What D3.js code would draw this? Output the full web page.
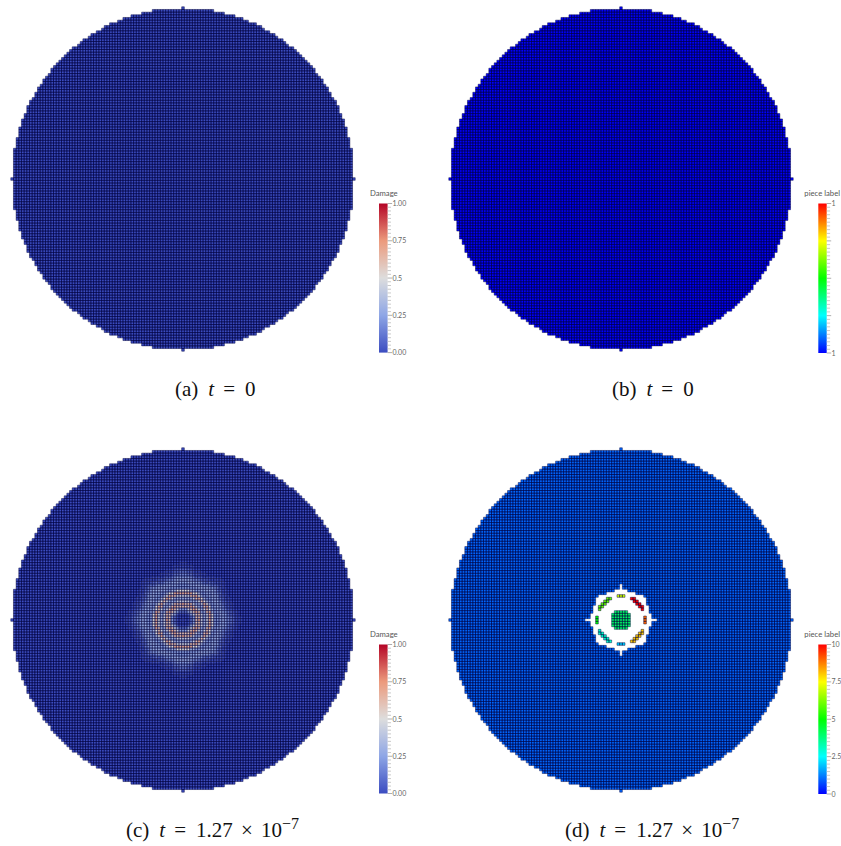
<!DOCTYPE html>
<html>
<head>
<meta charset="utf-8">
<script src="https://cdn.jsdelivr.net/npm/d3@7"></script>
<style>
html,body{margin:0;padding:0;background:#fff}
svg{display:block}
text.cap{font-family:"Liberation Serif",serif;font-size:21px;fill:#111}
text.tick{font-family:Lato,"Noto Sans",sans-serif;font-size:7px;fill:#666}
text.ttl{font-family:Lato,"Noto Sans",sans-serif;font-size:7.7px;fill:#555}
.soft{filter:blur(.45px)}
</style>
</head>
<body>
<svg id="c" width="841" height="846"></svg>
<script>
// --- data (lattice units = one mesh cell) ---
const meshRadius = 64;
const damageInitial = 0;
const pieceInitial = 0;
const pieceMain = 1;
// damage around the impact, sampled outward from the centre every profileStep cells
const profileStep = 0.64;
const damageProfile = [.01,.01,.02,.03,.06,.12,.25,.42,.6,.7,.62,.42,.28,.3,.44,.62,.68,.5,.32,.24,.24,.27,.29,.28,.24,.19,.14,.09,.06,.03,.02];
const damageFar = 0.004;
const damageLobeStart = 11.5;
// angular stretch of the outer damage halo, each 7.5 degrees, repeating each 90
const damageLobes = [1.25,1.14,.95,.92,.94,1.05,1.2,1.05,.94,.92,.95,1.14];
// radius of the cut-out in panel d, each 7.5 degrees, repeating each 90
const holeRadius = [13.05,11.3,10.8,11,11.5,12.2,12.7,12.2,11.5,11,10.8,11.3];
// fragments: label, start angle, end angle, inner radius, outer radius
const fragLabels = [4,9,7,5,2,10,6,3,8];
const fragStart  = [0,-11,79,169,259,23,113,203,293];
const fragEnd    = [360,11,101,191,281,67,157,247,337];
const fragInner  = [0,8.3,8.3,8.3,8.3,8.3,8.3,8.3,8.3];
const fragOuter  = [3.7,9.6,9.6,9.6,9.6,9.6,9.6,9.6,9.6];
// colour bars
const damageTicks = [0,.25,.5,.75,1];
const damageTickLabels = ["0.00","0.25","0.5","0.75","1.00"];
const pieceTicksB = [0,1];
const pieceTickLabelsB = ["1","1"];
const pieceTicksD = [0,2.5,5,7.5,10];
const pieceTickLabelsD = ["0","2.5","5","7.5","10"];
const captionTags = ["(a)","(b)","(c)","(d)"];
const captionValues = ["0","0","1.27 × 10","1.27 × 10"];
const captionExps = ["","","−7","−7"];

// --- layout ---
const panels = [
 {cx:183,cy:179,bar:[379,387.6],barY:[352.6,203.5],cap:[175,396]},
 {cx:621,cy:179,bar:[818.3,826.7],barY:[353,203.5],cap:[612,396]},
 {cx:183,cy:620,bar:[379,387.6],barY:[793.5,644.5],cap:[126,837]},
 {cx:621,cy:620,bar:[818.3,826.7],barY:[794,644.5],cap:[565,837]}
];

const svg = d3.select("#c");
const coolWarm = d3.scaleLinear().domain([0,.25,.5,.75,1]).range(["#3b4cc0","#8ea6e6","#dddddd","#ec9a7c","#b40426"]).clamp(true);
const rainbowStops = ["#0000ff","#00ffff","#00ff00","#ffff00","#ff0000"];
const rainbow = d3.scaleLinear().domain([0,.25,.5,.75,1]).range(rainbowStops).clamp(true);
const label10 = d3.scaleLinear().domain([0,10]).range([0,1]);

// lattice of the disc
const lattice = [];
d3.range(-meshRadius,meshRadius+1).forEach(j=>d3.range(-meshRadius,meshRadius+1).forEach(i=>{
  const r=Math.hypot(i,j);
  if(r<=meshRadius){
    let a=Math.atan2(j,i)*180/Math.PI; if(a<0)a+=360;
    lattice.push({i,j,r,a});
  }
}));
const bin = (arr,a)=>{const k=Math.round(((a%90)+90)%90/7.5)%12;return arr[k];};
function damageAt(c){
  let r=c.r;
  if(r>damageLobeStart) r=damageLobeStart+(r-damageLobeStart)/bin(damageLobes,c.a);
  const k=Math.round(r/profileStep);
  return k<damageProfile.length?damageProfile[k]:damageFar;
}
function pieceAt(c){
  for(let f=0;f<fragLabels.length;f++){
    const span=fragEnd[f]-fragStart[f];
    const a=(c.a-fragStart[f]+720)%360;
    if((span>=360||a<=span) && c.r>=fragInner[f] && c.r<=fragOuter[f]) return fragLabels[f];
  }
  if(c.r<bin(holeRadius,c.a)) return null;
  return pieceMain;
}
const fields = [
  c=>coolWarm(damageInitial),
  c=>rainbow(pieceInitial),
  c=>coolWarm(damageAt(c)),
  c=>{const p=pieceAt(c);return p===null?null:rainbow(label10(p));}
];

panels.forEach((p,idx)=>{
  const pitch=2.67, half=(meshRadius+.5)*pitch;
  const x=d3.scaleLinear().domain([-meshRadius-.5,meshRadius+.5]).range([p.cx-half,p.cx+half]);
  const y=d3.scaleLinear().domain([-meshRadius-.5,meshRadius+.5]).range([p.cy+half,p.cy-half]);
  const w=x(1)-x(0);
  const g=svg.append("g").attr("class","soft");
  const cells=lattice.map(c=>({c,fill:fields[idx](c)})).filter(d=>d.fill!==null);
  const byFill=d3.group(cells,d=>d.fill);
  const cellPath=list=>{
    const pth=d3.path();
    list.forEach(d=>pth.rect(x(d.c.i-.5),y(d.c.j+.5),w,w));
    return pth.toString();
  };
  g.selectAll("path.cell").data([...byFill]).join("path").attr("class","cell")
    .attr("d",d=>cellPath(d[1])).attr("fill",d=>d[0]);
  g.append("path").attr("d",cellPath(cells)).attr("fill","none")
    .attr("stroke","#00003c").attr("stroke-opacity",.5).attr("stroke-width",.9);

  // colour bar
  const isDamage = idx%2===0;
  const barScale=d3.scaleLinear().domain([0,1]).range(p.barY);
  const gid="grad"+idx;
  const grad=svg.append("defs").append("linearGradient").attr("id",gid).attr("x1",0).attr("x2",0).attr("y1",1).attr("y2",0);
  const colorFn=isDamage?coolWarm:rainbow;
  d3.range(0,1.0001,.05).forEach(t=>grad.append("stop").attr("offset",t).attr("stop-color",colorFn(t)));
  svg.append("rect").attr("class","soft").attr("x",p.bar[0]).attr("y",barScale(1)).attr("width",p.bar[1]-p.bar[0])
    .attr("height",barScale(0)-barScale(1)).attr("fill",`url(#${gid})`);
  const tg=svg.append("g");
  tg.selectAll("line.m").data(d3.range(0,41)).join("line")
    .attr("x1",p.bar[1]).attr("x2",d=>p.bar[1]+(d%10===0?4.5:3.4))
    .attr("y1",d=>barScale(d/40)).attr("y2",d=>barScale(d/40))
    .attr("stroke",d=>d%10===0?"#999":"#bbb").attr("stroke-width",.8);
  const tickVals = idx===1?pieceTicksB:(idx===3?pieceTicksD.map(label10):damageTicks);
  const tickLabs = isDamage?damageTickLabels:(idx===1?pieceTickLabelsB:pieceTickLabelsD);
  tg.selectAll("text").data(tickVals).join("text").attr("class","tick")
    .attr("x",p.bar[1]+4.8).attr("y",d=>barScale(d)+2.5).text((d,i)=>tickLabs[i]);
  svg.append("text").attr("class","ttl")
    .attr("x",isDamage?383.8:822.2).attr("y",barScale(1)-7.5).attr("text-anchor","middle")
    .text(isDamage?"Damage":"piece label");

  // caption
  const t=svg.append("text").attr("class","cap").attr("x",p.cap[0]).attr("y",p.cap[1]);
  t.append("tspan").text(captionTags[idx]);
  t.append("tspan").attr("dx",10).attr("font-style","italic").text("t");
  t.append("tspan").attr("dx",9).text("=");
  t.append("tspan").attr("dx",10).attr("word-spacing","3px").text(captionValues[idx]);
  if(captionExps[idx]) t.append("tspan").attr("dy",-8).attr("font-size","16px").text(captionExps[idx]);
});
</script>
</body>
</html>
